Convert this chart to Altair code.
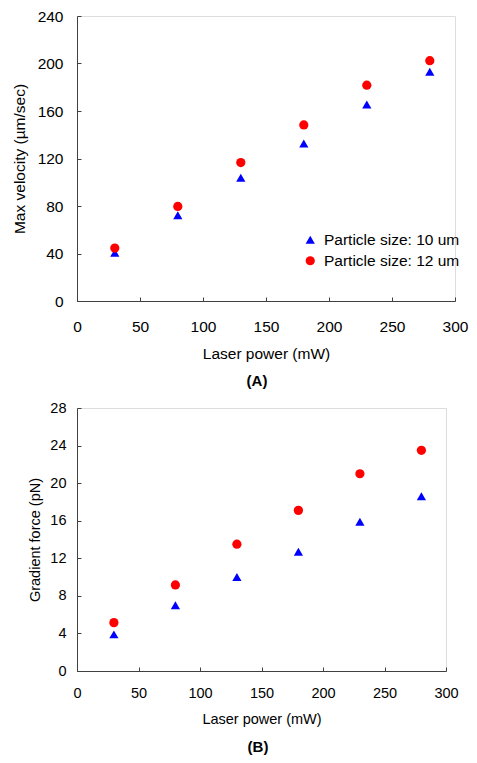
import altair as alt
import pandas as pd

power = [30, 80, 130, 180, 230, 280]
vel_10 = [40.6, 72.3, 103.7, 132.6, 165.4, 193.0]
vel_12 = [44.6, 79.6, 116.6, 148.3, 181.7, 202.4]
force_10 = [3.9, 7.0, 10.0, 12.7, 15.9, 18.6]
force_12 = [5.15, 9.16, 13.5, 17.1, 21.0, 23.5]
series = ["Particle size: 10 um", "Particle size: 12 um"]
x_ticks = [0, 50, 100, 150, 200, 250, 300]
vel_ticks = [0, 40, 80, 120, 160, 200, 240]
force_ticks = [0, 4, 8, 12, 16, 20, 24, 28]

FONT = "Liberation Sans"
AXIS_COLOR = "#404040"


def make_df(a, b):
    rows = []
    for p, v in zip(power, a):
        rows.append({"power": p, "value": v, "series": series[0]})
    for p, v in zip(power, b):
        rows.append({"power": p, "value": v, "series": series[1]})
    return pd.DataFrame(rows)


def panel(df, ytitle, yticks, w, h, fs, lx, ly, label, lab_pad_x, tpad_x,
          lab_pad_y, tpad_y, title_offset, title_dx, row_pad):
    legend = alt.Legend(
        title=None, orient="none", legendX=lx, legendY=ly,
        labelFontSize=fs, labelFont=FONT, labelColor="black",
        symbolSize=85, labelOffset=6, rowPadding=row_pad, padding=0,
        symbolStrokeWidth=0,
    )
    xaxis = alt.Axis(
        values=x_ticks, grid=False, tickSize={"expr": "-4"},
        labelFontSize=fs, titleFontSize=fs, labelFont=FONT, titleFont=FONT,
        labelColor="black", titleColor="black", titleFontWeight="normal",
        domainColor=AXIS_COLOR, tickColor=AXIS_COLOR, labelFlush=False,
        labelPadding=lab_pad_x, titlePadding=tpad_x, labelOverlap=False,
    )
    yaxis = alt.Axis(
        values=yticks, grid=False, tickSize={"expr": "-4"},
        labelFontSize=fs, titleFontSize=fs, labelFont=FONT, titleFont=FONT,
        labelColor="black", titleColor="black", titleFontWeight="normal",
        domainColor=AXIS_COLOR, tickColor=AXIS_COLOR,
        labelPadding=lab_pad_y, titlePadding=tpad_y, labelOverlap=False,
    )
    return alt.Chart(df).mark_point(filled=True, opacity=1, size=85).encode(
        x=alt.X("power:Q", title="Laser power (mW)",
                scale=alt.Scale(domain=[0, 300], nice=False), axis=xaxis),
        y=alt.Y("value:Q", title=ytitle,
                scale=alt.Scale(domain=[yticks[0], yticks[-1]], nice=False),
                axis=yaxis),
        color=alt.Color("series:N", scale=alt.Scale(domain=series, range=["#0000FF", "#FF0000"]),
                        legend=legend),
        shape=alt.Shape("series:N", scale=alt.Scale(domain=series, range=["triangle-up", "circle"]),
                        legend=legend),
    ).properties(
        width=w, height=h,
        title=alt.TitleParams(label, orient="bottom", fontSize=15, fontWeight="bold",
                              font=FONT, color="black", offset=title_offset,
                              anchor="middle", frame="group", dx=title_dx),
    )


chart_a = panel(make_df(vel_10, vel_12), "Max velocity (\u00b5m/sec)", vel_ticks,
                378, 285, 15.5, 225.5, 216, "(A)", 22.5, 11.5, 18, 9.6, 11.5, -9, 4)
chart_b = panel(make_df(force_10, force_12), "Gradient force (pN)", force_ticks,
                369, 263, 14.5, 225.5, 199, "(B)", 19.75, 12.5, 15, 7, 14, -3.5, 4)

chart = alt.vconcat(chart_a, chart_b, spacing=10).properties(
    padding={"left": 4, "top": 0, "right": 0, "bottom": 0}
).configure_view(stroke=None).configure(font=FONT)

chart.save("out.html", embed_options={"renderer": "svg", "actions": False})
